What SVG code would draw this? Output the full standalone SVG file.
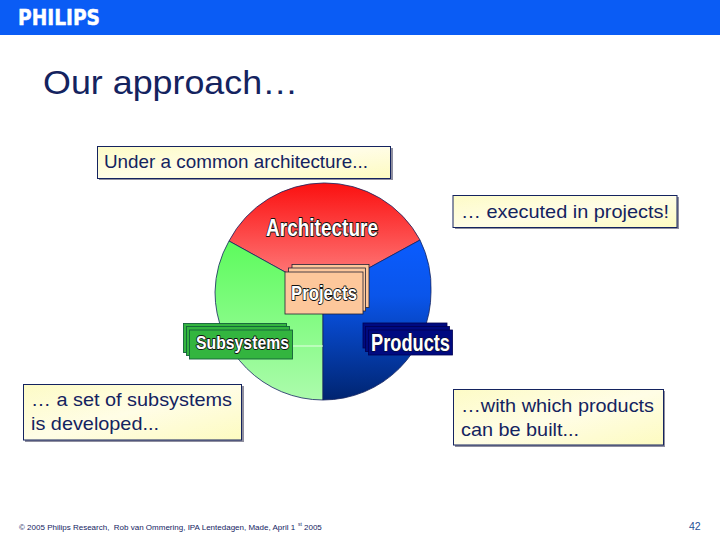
<svg xmlns="http://www.w3.org/2000/svg" width="720" height="540" viewBox="0 0 720 540">
<style>
text{font-family:"Liberation Sans",Arial,sans-serif;fill:#14235f}
.note{font-size:18.5px}
.foot{font-size:8px}
.box{stroke:#14235f;stroke-width:1;fill:url(#noteFill)}
.shadow{fill:#8f8f9f}
.label{font-family:"Liberation Sans","DejaVu Sans",sans-serif;font-weight:700;fill:#fff;stroke:#111;stroke-width:1.800px;paint-order:stroke;stroke-linejoin:round}
.p{fill:#fdc79b;stroke:#223;stroke-width:.8}
.s{fill:#33b53f;stroke:#14603a;stroke-width:.9}
.d{fill:#000a80;stroke:#000050;stroke-width:.8}
</style>
<defs>
<linearGradient id="noteFill" x1="0" y1="0" x2="1" y2="1">
<stop offset="0" stop-color="#fdfbc6"/><stop offset=".5" stop-color="#fffde6"/><stop offset="1" stop-color="#fdfbc0"/>
</linearGradient>
<linearGradient id="red" x1="0" y1="0" x2="0" y2="1"><stop offset="0" stop-color="#fb1010"/><stop offset="1" stop-color="#ff8a8a"/></linearGradient>
<linearGradient id="green" x1="0" y1="0" x2="0" y2="1"><stop offset="0" stop-color="#5dfb5d"/><stop offset="1" stop-color="#acfbac"/></linearGradient>
<linearGradient id="blue" x1="0" y1="0" x2="0" y2="1"><stop offset="0" stop-color="#0a5cff"/><stop offset=".35" stop-color="#0a55ea"/><stop offset="1" stop-color="#002470"/></linearGradient>
</defs>
<rect width="720" height="35" fill="#0a5cf5"/>
<text id="logo" x="18" y="25" font-size="22" textLength="82" lengthAdjust="spacingAndGlyphs" style="font-family:'DejaVu Sans',sans-serif;font-weight:700;fill:#fff;stroke:#fff;stroke-width:.5px">PHILIPS</text>
<text id="title" x="43" y="94" font-size="33" textLength="255" lengthAdjust="spacingAndGlyphs">Our approach…</text>

<g id="pie">
<path d="M323 293L229 241A108 108 0 0 1 420 240Z" fill="url(#red)" stroke="#14235f" stroke-width=".8"/>
<path d="M323 293L229 241A108 108 0 0 0 215 292A108 108 0 0 0 323 400Z" fill="url(#green)" stroke="#14235f" stroke-width=".8"/>
<path d="M323 293L420 240A108 108 0 0 1 431 292A108 108 0 0 1 323 400Z" fill="url(#blue)" stroke="#14235f" stroke-width=".8"/>
<path d="M293 346H323" stroke="#e4ffe4" stroke-width="1" fill="none"/>
</g>

<g id="architecture"><text class="label" x="266" y="236" font-size="24" textLength="112" lengthAdjust="spacingAndGlyphs">Architecture</text></g>

<g id="projects">
<rect class="p" x="292" y="264.500" width="77" height="43"/>
<rect class="p" x="288.500" y="268" width="77" height="43"/>
<rect class="p" x="285" y="272" width="78" height="42"/>
<text class="label" x="291" y="300" font-size="20" textLength="66" lengthAdjust="spacingAndGlyphs">Projects</text>
</g>

<g id="subsystems">
<rect class="s" x="183.500" y="323.500" width="103" height="29"/>
<rect class="s" x="186.500" y="326.500" width="103" height="29"/>
<rect class="s" x="189.500" y="330" width="103" height="29"/>
<text class="label" x="196" y="349" font-size="18" textLength="93" lengthAdjust="spacingAndGlyphs">Subsystems</text>
</g>

<g id="products">
<rect class="d" x="363" y="323" width="84" height="25"/>
<rect class="d" x="365.500" y="326.500" width="84" height="25"/>
<rect class="d" x="368.500" y="330" width="84" height="25"/>
<text class="label" x="371" y="351" font-size="24.500" textLength="79" lengthAdjust="spacingAndGlyphs" style="stroke-width:1.200px">Products</text>
</g>

<g id="note-architecture">
<rect class="shadow" x="99" y="148" width="294" height="32"/>
<rect class="box" x="97.500" y="146.500" width="293" height="32"/>
<text class="note" x="104" y="168" textLength="264" lengthAdjust="spacingAndGlyphs">Under a common architecture...</text>
</g>
<g id="note-projects">
<rect class="shadow" x="455" y="197" width="224" height="32"/>
<rect class="box" x="453" y="195.500" width="224" height="32"/>
<text class="note" x="461" y="218" textLength="208" lengthAdjust="spacingAndGlyphs">… executed in projects!</text>
</g>
<g id="note-subsystems">
<rect class="shadow" x="25" y="386" width="219" height="56"/>
<rect class="box" x="23.500" y="384.500" width="218" height="55.500"/>
<text class="note" x="31" y="406" textLength="201" lengthAdjust="spacingAndGlyphs">… a set of subsystems</text>
<text class="note" x="31" y="430" textLength="128" lengthAdjust="spacingAndGlyphs">is developed...</text>
</g>
<g id="note-products">
<rect class="shadow" x="455" y="391" width="210" height="56"/>
<rect class="box" x="453.500" y="389.500" width="210" height="55.500"/>
<text class="note" x="461" y="412" textLength="193" lengthAdjust="spacingAndGlyphs">…with which products</text>
<text class="note" x="461" y="436" textLength="118" lengthAdjust="spacingAndGlyphs">can be built...</text>
</g>

<g id="footer">
<text class="foot" x="19" y="530" xml:space="preserve">© 2005 Philips Research,  Rob van Ommering, IPA Lentedagen, Made, April 1</text>
<text x="298" y="526" font-size="5">st</text>
<text class="foot" x="304" y="530">2005</text>
</g>
<text id="page" x="689" y="530" font-size="10.500" style="fill:#1f4f96">42</text>
</svg>
